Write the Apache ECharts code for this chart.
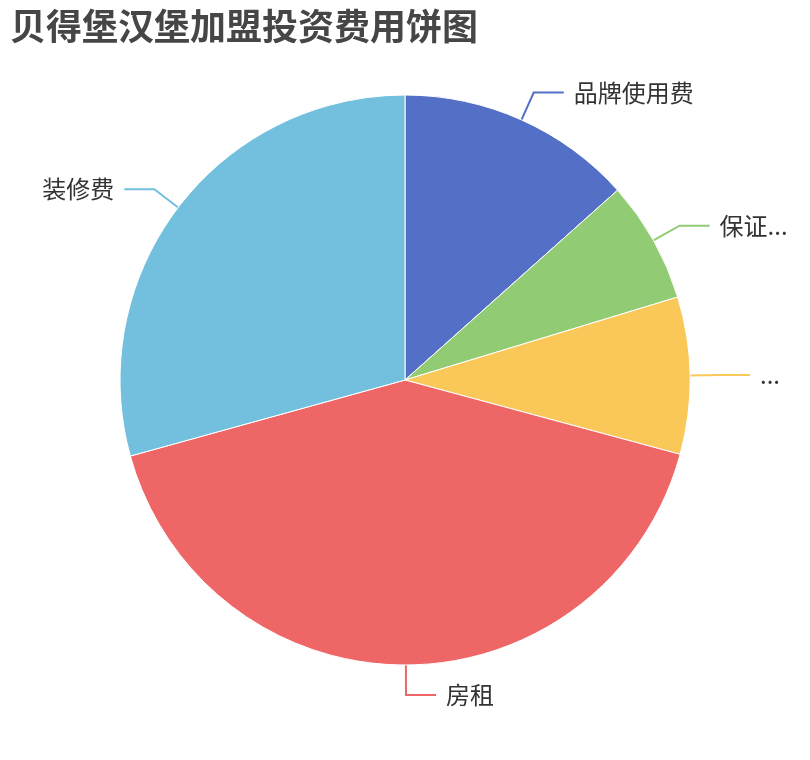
<!DOCTYPE html>
<html>
	<head>
		<meta charset="utf-8" />
		<title>贝得堡汉堡加盟投资费用饼图</title>
		<script src="https://cdn.jsdelivr.net/npm/echarts@6/dist/echarts.min.js"></script>
		<style>
			html, body {
				margin: 0;
				padding: 0;
				background-color: #FFFFFF;
			}
			#pieChart {
				width: 810px;
				height: 760px;
			}
		</style>
	</head>
	<body>
		<div id="pieChart"></div>
		<script>
			// 费用名称和占比
			var names = ['品牌使用费', '保证金费用', '设备费', '房租', '装修费'];
			var values = [13.4, 6.9, 8.9, 41.5, 29.3];
			var colors = ['#5470c6', '#91cc75', '#fac858', '#ee6666', '#73c0de'];

			var pieData = names.map(function(name, i) {
				return {
					name: name,
					value: values[i]
				};
			});

			var pieChart = echarts.init(document.getElementById('pieChart'));

			var option = {
				animation: false,
				color: colors,
				title: {
					text: '贝得堡汉堡加盟投资费用饼图',
					left: 10,
					top: 8,
					padding: 0,
					textStyle: {
						fontFamily: 'Noto Sans CJK SC',
						fontSize: 36,
						fontWeight: 'bold',
						color: '#464646'
					}
				},
				series: [{
					name: '投资费用',
					type: 'pie',
					radius: '75%',
					center: ['50%', '50%'],
					data: pieData,
					itemStyle: {
						borderColor: '#fff',
						borderWidth: 1
					},
					label: {
						fontFamily: 'Noto Sans CJK SC',
						fontSize: 24,
						color: '#333',
						padding: [0, 5],
						bleedMargin: 10
					},
					labelLine: {
						length: 30,
						length2: 30,
						lineStyle: {
							width: 2
						}
					}
				}]
			};

			pieChart.setOption(option);
		</script>
	</body>
</html>
